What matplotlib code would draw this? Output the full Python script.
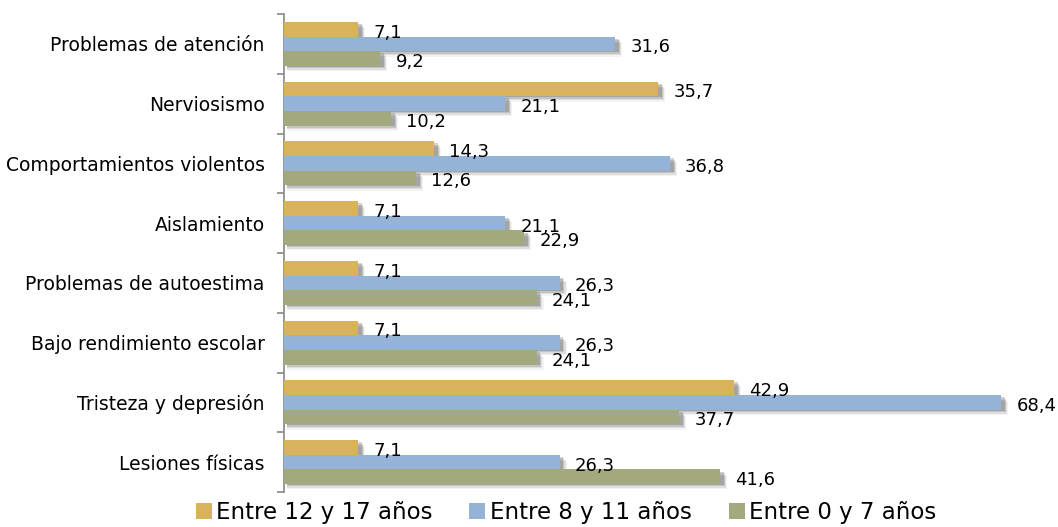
import matplotlib
matplotlib.use("Agg")
import matplotlib.pyplot as plt
import numpy as np

categories = ["Problemas de atención", "Nerviosismo", "Comportamientos violentos",
              "Aislamiento", "Problemas de autoestima", "Bajo rendimiento escolar",
              "Tristeza y depresión", "Lesiones físicas"]
series_names = ["Entre 12 y 17 años", "Entre 8 y 11 años", "Entre 0 y 7 años"]
s_12_17 = [7.1, 35.7, 14.3, 7.1, 7.1, 7.1, 42.9, 7.1]
s_8_11 = [31.6, 21.1, 36.8, 21.1, 26.3, 26.3, 68.4, 26.3]
s_0_7 = [9.2, 10.2, 12.6, 22.9, 24.1, 24.1, 37.7, 41.6]
colors = ["#D9B25C", "#95B3D7", "#A3A97D"]

plt.rcParams['font.family'] = ['DejaVu Sans']

fig = plt.figure(figsize=(10.58, 5.27), dpi=100)
ax = fig.add_axes([284/1058, 1-492/527, (1018-284)/1058, (492-14)/527])

n = len(categories)
y_centers = np.arange(n)[::-1] + 0.5  # top category at top
h = 0.245
offsets = [-h, 0, h]
all_vals = [s_12_17, s_8_11, s_0_7]

# soft drop shadows (drawn beneath all bars)
layers = [(0.10, 0.025, 0.22), (0.20, 0.05, 0.16), (0.30, 0.075, 0.11), (0.40, 0.10, 0.06)]
for si, vals in enumerate(all_vals):
    ys = y_centers - offsets[si]
    for dx, dy, a in layers:
        ax.barh(ys - dy, np.array(vals) + dx, height=h * 0.92, left=0.25, color="#3a3a3a",
                alpha=a, linewidth=0, zorder=1)

for si, (vals, col, name) in enumerate(zip(all_vals, colors, series_names)):
    ys = y_centers - offsets[si]
    ax.barh(ys, vals, height=h, color=col, label=name, zorder=3)
    for yv, v in zip(ys, vals):
        ax.annotate(f"{v:.1f}".replace(".", ","), xy=(v, yv), xytext=(11, -2.5),
                    textcoords="offset points", ha="left", va="center",
                    fontsize=13, color="black", zorder=10)

ax.set_xlim(0, 70)
ax.set_ylim(0, n)
ax.set_yticks(np.arange(n + 1))
ax.set_yticklabels([])
ax.set_yticks(y_centers, minor=True)
ax.set_yticklabels(categories, minor=True, fontsize=13.5)
ax.tick_params(axis='y', which='major', length=5, color="#888888", width=1.2)
ax.tick_params(axis='y', which='minor', length=0, pad=14)
ax.set_xticks([])
for s in ["top", "right", "bottom"]:
    ax.spines[s].set_visible(False)
ax.spines["left"].set_color("#888888")
ax.spines["left"].set_linewidth(1.2)

handles, labels = ax.get_legend_handles_labels()
leg = fig.legend(handles, labels, loc="lower center", bbox_to_anchor=(566/1058, -0.033), ncol=3,
                 frameon=False, fontsize=16.5, handlelength=0.7, handleheight=0.7,
                 handletextpad=0.2, columnspacing=1.6)

fig.savefig("out.png", dpi=100)
